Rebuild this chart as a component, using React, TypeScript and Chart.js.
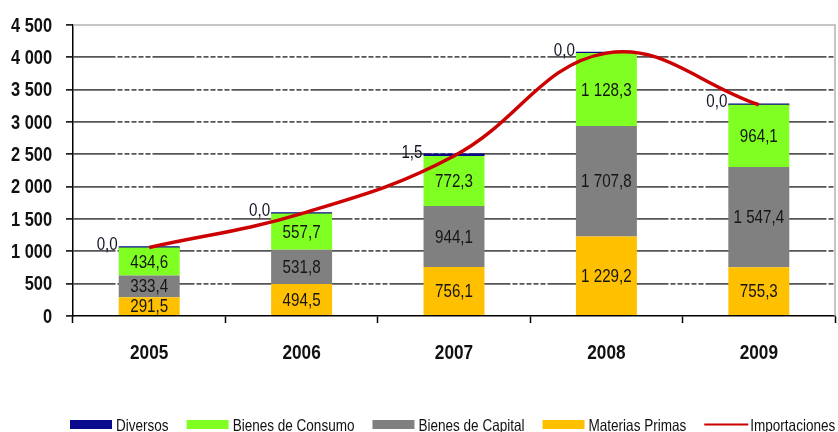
import React, { useEffect, useRef } from "react";
import { Chart, registerables } from "chart.js";

Chart.register(...registerables);

const years = ["2005", "2006", "2007", "2008", "2009"];
const materiasPrimas = [291.5, 494.5, 756.1, 1229.2, 755.3];
const bienesCapital = [333.4, 531.8, 944.1, 1707.8, 1547.4];
const bienesConsumo = [434.6, 557.7, 772.3, 1128.3, 964.1];
const diversos = [0.0, 0.0, 1.5, 0.0, 0.0];
const importaciones = [1059.5, 1584.0, 2474.0, 4065.3, 3266.8];
const yMin = 0;
const yMax = 4500;
const yStep = 500;

const legendOrder = ["Diversos", "Bienes de Consumo", "Bienes de Capital", "Materias Primas", "Importaciones"];

const FONT = "'Liberation Sans', Arial, sans-serif";
const SQUEEZE = 0.82;

const fmt = (v: number, dec: number) => {
  const s = v.toFixed(dec);
  const [i, d] = s.split(".");
  const ip = i.replace(/\B(?=(\d{3})+(?!\d))/g, " ");
  return d !== undefined ? ip + "," + d : ip;
};

// draw condensed (Arial Narrow–like) text
const narrowText = (
  ctx: CanvasRenderingContext2D,
  text: string,
  x: number,
  y: number,
  size: number,
  weight: string,
  align: CanvasTextAlign,
  baseline: CanvasTextBaseline,
  color: string
) => {
  ctx.save();
  ctx.font = `${weight} ${size}px ${FONT}`;
  ctx.textAlign = align;
  ctx.textBaseline = baseline;
  ctx.fillStyle = color;
  ctx.translate(x, y);
  ctx.scale(SQUEEZE, 1);
  ctx.fillText(text, 0, 0);
  ctx.restore();
};

const narrowWidth = (ctx: CanvasRenderingContext2D, text: string, size: number, weight: string) => {
  ctx.save();
  ctx.font = `${weight} ${size}px ${FONT}`;
  const w = ctx.measureText(text).width * SQUEEZE;
  ctx.restore();
  return w;
};

const tickLabelsPlugin = {
  id: "tickLabels",
  afterDraw(chart: any) {
    const ctx = chart.ctx;
    const ys = chart.scales.y;
    ys.ticks.forEach((t: any) => {
      const py = ys.getPixelForValue(t.value);
      narrowText(ctx, fmt(t.value, 0), ys.right - 7 - 14, py + 1, 20, "bold", "right", "middle", "#111");
    });
    const xs = chart.scales.x;
    xs.ticks.forEach((t: any, i: number) => {
      const px = xs.getPixelForTick(i);
      narrowText(ctx, String(chart.data.labels[i]), px, xs.top + 43, 21, "bold", "center", "alphabetic", "#111");
    });
  },
};

const labelsPlugin = {
  id: "segLabels",
  afterDatasetsDraw(chart: any) {
    const ctx = chart.ctx;
    chart.data.datasets.forEach((ds: any, di: number) => {
      if (ds.type === "line") return;
      const meta = chart.getDatasetMeta(di);
      meta.data.forEach((el: any, i: number) => {
        const txt = fmt(ds.data[i], 1);
        if (ds.label === "Diversos") {
          const top = Math.min(el.y, el.base);
          narrowText(ctx, txt, el.x - el.width / 2 - 1, top + 4, 18.5, "normal", "right", "alphabetic", "#151525");
        } else {
          narrowText(ctx, txt, el.x, (el.y + el.base) / 2 + 1, 18.5, "normal", "center", "middle", "#151515");
        }
      });
    });
  },
};

const borderPlugin = {
  id: "plotBorder",
  beforeDatasetsDraw(chart: any) {
    const { ctx, chartArea: a } = chart;
    ctx.save();
    ctx.strokeStyle = "#b4b4b4";
    ctx.lineWidth = 1.5;
    ctx.beginPath();
    ctx.moveTo(a.left, a.top);
    ctx.lineTo(a.right, a.top);
    ctx.lineTo(a.right, a.bottom);
    ctx.stroke();
    ctx.restore();
  },
};

const legendPlugin = {
  id: "customLegend",
  afterDraw(chart: any) {
    const ctx = chart.ctx;
    let x = 70;
    const boxW = 42;
    const boxTop = 420;
    const boxH = 9;
    const size = 16.5;
    legendOrder.forEach((name) => {
      const ds = chart.data.datasets.find((d: any) => d.label === name);
      if (!ds) return;
      ctx.save();
      if (ds.type === "line") {
        ctx.strokeStyle = ds.borderColor;
        ctx.lineWidth = 2;
        ctx.beginPath();
        ctx.moveTo(x, boxTop + boxH / 2);
        ctx.lineTo(x + boxW + 2, boxTop + boxH / 2);
        ctx.stroke();
      } else {
        ctx.fillStyle = ds.backgroundColor;
        ctx.fillRect(x, boxTop, boxW, boxH);
      }
      ctx.restore();
      x += boxW + 4;
      narrowText(ctx, name, x, 431, size, "normal", "left", "alphabetic", "#111");
      x += narrowWidth(ctx, name, size, "normal") + 18;
    });
  },
};

export default function App() {
  const ref = useRef<HTMLCanvasElement | null>(null);
  useEffect(() => {
    if (!ref.current) return;
    const chart = new Chart(ref.current, {
      type: "bar",
      data: {
        labels: years,
        datasets: [
          {
            type: "line",
            label: "Importaciones",
            data: importaciones,
            borderColor: "#cc0000",
            backgroundColor: "#cc0000",
            borderWidth: 3.5,
            pointRadius: 0,
            tension: 0.4,
            stack: "line",
            order: 0,
          } as any,
          {
            label: "Materias Primas",
            data: materiasPrimas,
            backgroundColor: "#ffc000",
            stack: "s",
            order: 1,
          },
          {
            label: "Bienes de Capital",
            data: bienesCapital,
            backgroundColor: "#808080",
            stack: "s",
            order: 1,
          },
          {
            label: "Bienes de Consumo",
            data: bienesConsumo,
            backgroundColor: "#80ff22",
            stack: "s",
            order: 1,
          },
          {
            label: "Diversos",
            data: diversos,
            backgroundColor: "#0a0a8c",
            stack: "s",
            order: 1,
            minBarLength: 2.5,
          },
        ],
      },
      options: {
        animation: false,
        responsive: false,
        layout: { padding: { left: 0, top: 25, right: 3, bottom: 0 } },
        datasets: { bar: { categoryPercentage: 1, barPercentage: 0.4, borderWidth: 0 } },
        plugins: { legend: { display: false }, tooltip: { enabled: false } },
        scales: {
          x: {
            stacked: true,
            afterFit: (s: any) => {
              s.height = 116;
            },
            grid: {
              display: true,
              drawOnChartArea: false,
              drawTicks: true,
              tickLength: 7,
              tickColor: "#000",
              tickWidth: 1.5,
              offset: true,
            },
            border: { display: true, color: "#000", width: 1.5 },
            ticks: { display: false },
          },
          y: {
            stacked: true,
            min: yMin,
            max: yMax,
            afterFit: (s: any) => {
              s.width = 73;
            },
            grid: {
              color: (c: any) => (c.tick && (c.tick.value === yMax || c.tick.value === yMin) ? "rgba(0,0,0,0)" : "#555"),
              lineWidth: 1.8,
              drawTicks: true,
              tickLength: 7,
              tickColor: "#000",
              tickWidth: 1.5,
            },
            border: { display: true, color: "#000", width: 1.5, dash: [42, 2, 5, 2, 5, 2, 5, 2, 5, 2, 5, 2] },
            ticks: { display: false, stepSize: yStep },
          },
        },
      },
      plugins: [borderPlugin, labelsPlugin, tickLabelsPlugin, legendPlugin],
    });
    return () => chart.destroy();
  }, []);
  return (
    <div style={{ position: "absolute", left: 0, top: 0, width: 838, height: 432, background: "#fff" }}>
      <canvas ref={ref} width={838} height={432} style={{ width: 838, height: 432, display: "block" }} />
    </div>
  );
}
